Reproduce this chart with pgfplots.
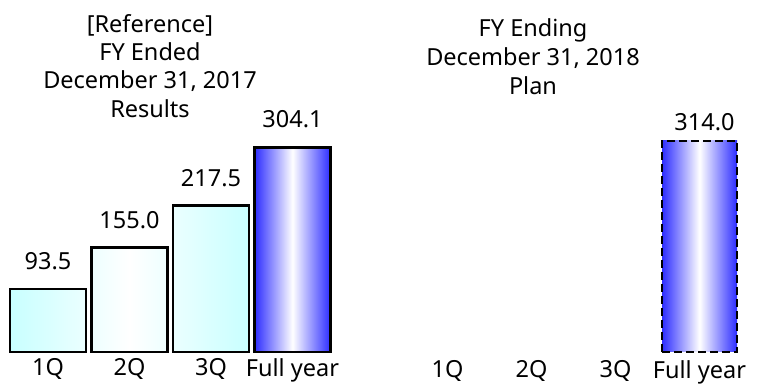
\documentclass[border=0pt]{standalone}
\usepackage{pgfplots}
\pgfplotsset{compat=1.18}
\usepackage{fontspec}
\setmainfont{Noto Sans}
\definecolor{qcyan}{RGB}{200,255,255}
\definecolor{fyblue}{RGB}{45,45,255}
\begin{document}
\fontsize{23.5bp}{28bp}\selectfont
\begin{tikzpicture}
\path[use as bounding box] (0,0) rectangle (757bp,384bp);
\pgfplotsset{myax/.style={scale only axis, height=222bp, ymin=0, ymax=330, xmin=-0.5, xmax=3.5,
  axis line style={draw=none}, ytick=\empty, xtick={0,1,2,3}, xticklabels={1Q,2Q,3Q,Full year},
  major tick length=0pt, clip=false, anchor=south west, point meta=explicit symbolic,
  every node near coord/.append style={inner sep=0pt, anchor=south, text=black}}}
\begin{axis}[myax, at={(7.25bp,32bp)}, width=326bp, xticklabel style={inner sep=0pt, yshift=-6bp}]
\addplot[ybar, bar width=76bp, bar shift=0pt, draw=black, line width=2.5bp,
  left color=qcyan, right color=qcyan, middle color=white,
  nodes near coords, every node near coord/.append style={yshift=18bp}]
  coordinates {(0,93.5) [93.5] (1,155.0) [155.0] (2,217.5) [217.5]};
\addplot[ybar, bar width=76bp, bar shift=0pt, draw=black, line width=2.5bp,
  left color=fyblue, right color=fyblue, middle color=white,
  nodes near coords, every node near coord/.append style={yshift=18bp}]
  coordinates {(3,304.1) [304.1]};
\end{axis}
\begin{axis}[myax, at={(405.5bp,32bp)}, width=336bp, xticklabel style={inner sep=0pt, yshift=-8bp}]
\addplot[ybar, bar width=75bp, bar shift=0pt, draw=black, line width=2.5bp, dash pattern=on 8bp off 4bp,
  left color=fyblue, right color=fyblue, middle color=white,
  nodes near coords, every node near coord/.append style={yshift=9bp, xshift=5bp}]
  coordinates {(3,314.0) [314.0]};
\end{axis}
\node[anchor=base] at (150bp,351bp) {[Reference]};
\node[anchor=base] at (150bp,323bp) {FY Ended};
\node[anchor=base] at (150bp,295bp) {December 31, 2017};
\node[anchor=base] at (150bp,266bp) {Results};
\node[anchor=base] at (533bp,347bp) {FY Ending};
\node[anchor=base] at (533bp,318bp) {December 31, 2018};
\node[anchor=base] at (533bp,289bp) {Plan};
\end{tikzpicture}
\end{document}
